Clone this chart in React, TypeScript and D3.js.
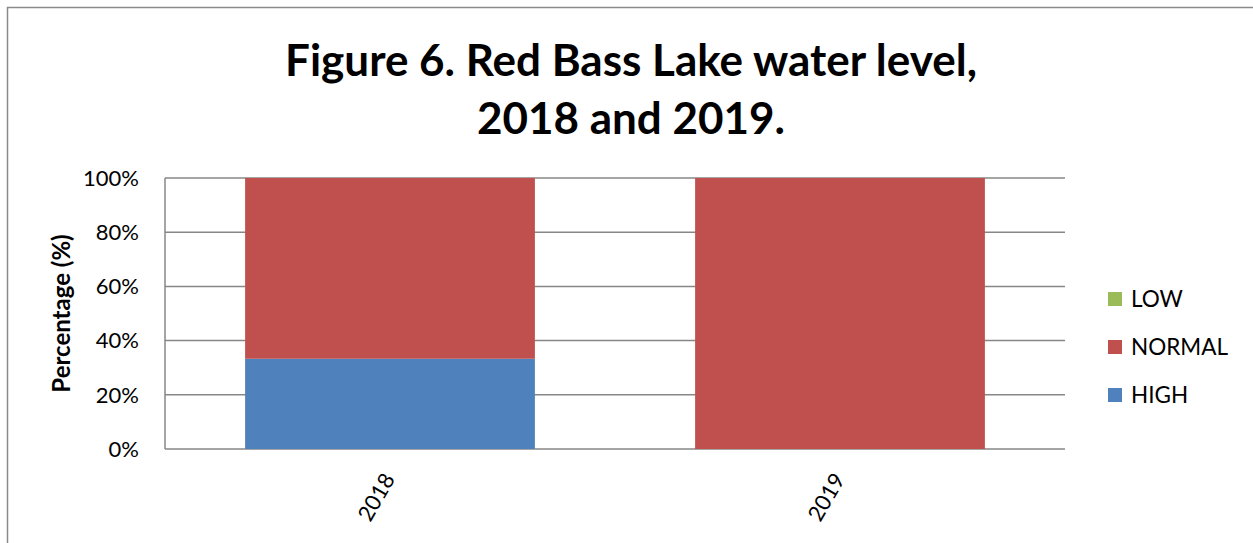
import React, { useEffect, useRef } from "react";
import * as d3 from "d3";

// chart values
const years = ["2018", "2019"];
const seriesNames = ["HIGH", "NORMAL", "LOW"];
const highValues = [33.3, 0];
const normalValues = [66.7, 100];
const lowValues = [0, 0];
const yTicks = [0, 20, 40, 60, 80, 100];
const legendOrder = ["LOW", "NORMAL", "HIGH"];

const colors = new Map([
	["HIGH", "#4f81bd"],
	["NORMAL", "#c0504d"],
	["LOW", "#9bbb59"],
]);

const FONT = "Lato, 'Open Sans', sans-serif";

export default function App() {
	const svgRef = useRef<SVGSVGElement | null>(null);

	useEffect(() => {
		if (!svgRef.current) return;
		const width = 1253;
		const height = 543;
		const plot = { left: 165, right: 1065, top: 178, bottom: 449 };

		const svg = d3.select(svgRef.current);
		svg.selectAll("*").remove();

		// outer chart border
		svg
			.append("rect")
			.attr("x", 7.5)
			.attr("y", 7.5)
			.attr("width", width + 20)
			.attr("height", height + 20)
			.attr("fill", "white")
			.attr("stroke", "#8a8a8a")
			.attr("stroke-width", 1.5);

		// title
		const title = svg
			.append("text")
			.attr("text-anchor", "middle")
			.attr("font-family", FONT)
			.attr("font-weight", "bold")
			.attr("font-size", 44)
			.attr("fill", "#000");
		title.append("tspan").attr("x", 631).attr("y", 76).text("Figure 6. Red Bass Lake water level,");
		title.append("tspan").attr("x", 631).attr("y", 134).text("2018 and 2019.");

		const x = d3.scaleBand().domain(years).range([plot.left, plot.right]).paddingInner(0.356).paddingOuter(0.178);
		const y = d3.scaleLinear().domain([0, 100]).range([plot.bottom, plot.top]);

		// gridlines
		svg
			.append("g")
			.selectAll("line")
			.data(yTicks)
			.join("line")
			.attr("x1", plot.left)
			.attr("x2", plot.right)
			.attr("y1", (d) => y(d))
			.attr("y2", (d) => y(d))
			.attr("stroke", "#878787")
			.attr("stroke-width", 1.5);

		// y axis line
		svg
			.append("line")
			.attr("x1", plot.left)
			.attr("x2", plot.left)
			.attr("y1", plot.top)
			.attr("y2", plot.bottom)
			.attr("stroke", "#878787")
			.attr("stroke-width", 1.5);

		// stacked bars
		const rows = years.map((yr, i) => ({ year: yr, HIGH: highValues[i], NORMAL: normalValues[i], LOW: lowValues[i] }));
		const stack = d3.stack<any>().keys(seriesNames)(rows);
		svg
			.append("g")
			.selectAll("g")
			.data(stack)
			.join("g")
			.attr("fill", (s) => colors.get(s.key) as string)
			.selectAll("rect")
			.data((s) => s)
			.join("rect")
			.attr("x", (d: any) => x(d.data.year) as number)
			.attr("width", x.bandwidth())
			.attr("y", (d) => y(d[1]))
			.attr("height", (d) => y(d[0]) - y(d[1]));

		// y tick labels
		svg
			.append("g")
			.selectAll("text")
			.data(yTicks)
			.join("text")
			.attr("x", 139)
			.attr("y", (d) => y(d))
			.attr("dy", "0.35em")
			.attr("text-anchor", "end")
			.attr("font-family", FONT)
			.attr("font-size", 22)
			.text((d) => `${d}%`);

		// x labels (rotated)
		svg
			.append("g")
			.selectAll("text")
			.data(years)
			.join("text")
			.attr("transform", (d) => `translate(${(x(d) as number) + x.bandwidth() / 2 - 1},${plot.bottom + 26}) rotate(-60)`)
			.attr("text-anchor", "end")
			.attr("dy", "0.35em")
			.attr("font-family", FONT)
			.attr("font-size", 22)
			.text((d) => d);

		// y axis title
		svg
			.append("text")
			.attr("transform", `translate(62,${(plot.top + plot.bottom) / 2}) rotate(-90)`)
			.attr("text-anchor", "middle")
			.attr("dy", "0.35em")
			.attr("font-family", FONT)
			.attr("font-weight", "bold")
			.attr("font-size", 24)
			.text("Percentage (%)");

		// legend
		const legend = svg
			.append("g")
			.selectAll("g")
			.data(legendOrder)
			.join("g")
			.attr("transform", (_d, i) => `translate(1108,${299 + i * 48})`);
		legend
			.append("rect")
			.attr("x", 0)
			.attr("y", -7)
			.attr("width", 14)
			.attr("height", 14)
			.attr("fill", (d) => colors.get(d) as string);
		legend
			.append("text")
			.attr("x", 23)
			.attr("dy", "0.35em")
			.attr("font-family", FONT)
			.attr("font-size", 22.5)
			.text((d) => d);
	}, []);

	return (
		<svg
			ref={svgRef}
			width={1253}
			height={543}
			style={{ position: "absolute", left: 0, top: 0, background: "white" }}
		/>
	);
}
